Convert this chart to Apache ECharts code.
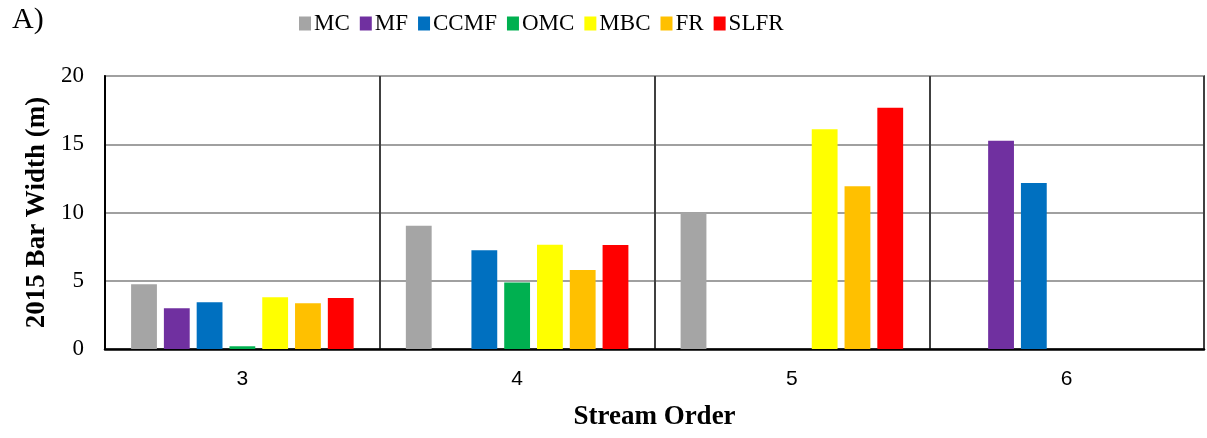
<!DOCTYPE html>
<html><head><meta charset="utf-8">
<script src="https://cdn.jsdelivr.net/npm/echarts@6/dist/echarts.min.js"></script>
<style>html,body{margin:0;padding:0;background:#fff}#c{width:1207px;height:438px}</style>
</head><body><div id="c"></div>
<script>
const categories = ['3', '4', '5', '6'];
const seriesNames = ['MC', 'MF', 'CCMF', 'OMC', 'MBC', 'FR', 'SLFR'];
const MC   = [4.74, 9.03, 10.0, null];
const MF   = [2.98, null, null, 15.26];
const CCMF = [3.42, 7.23, null, 12.16];
const OMC  = [0.2, 4.88, null, null];
const MBC  = [3.79, 7.64, 16.1, null];
const FR   = [3.35, 5.79, 11.92, null];
const SLFR = [3.74, 7.62, 17.68, null];
const yTicks = [0, 5, 10, 15, 20];
const colors = ['#a5a5a5', '#7030a0', '#0070c0', '#00b050', '#ffff00', '#ffc000', '#ff0000'];

const values = [MC, MF, CCMF, OMC, MBC, FR, SLFR];
const font = '"Liberation Serif", "Times New Roman", serif';
const sans = '"Liberation Sans", Arial, sans-serif';
const chart = echarts.init(document.getElementById('c'));
chart.setOption({
  animation: false,
  color: colors,
  title: { text: 'A)', left: 7, top: 0, textStyle: { fontFamily: font, fontWeight: 'normal', fontSize: 30, color: '#000' } },
  legend: {
    left: 294, top: 7, itemWidth: 12, itemHeight: 14, itemGap: 10,
    textStyle: { fontFamily: font, fontSize: 23, color: '#000', padding: [0, 0, 0, -2] },
    icon: 'rect',
    data: seriesNames
  },
  grid: { left: 105, right: 3, top: 76, bottom: 89, show: true, borderColor: '#000', borderWidth: 1.5 },
  xAxis: {
    type: 'category', data: categories,
    name: 'Stream Order', nameLocation: 'middle', nameGap: 55,
    nameTextStyle: { fontFamily: font, fontWeight: 'bold', fontSize: 27, color: '#000' },
    axisLine: { lineStyle: { color: '#000', width: 2.5 } },
    axisTick: { show: false },
    axisLabel: { fontFamily: sans, fontSize: 21, color: '#000', margin: 20 },
    splitLine: { show: true, lineStyle: { color: '#404040', width: 2 } }
  },
  yAxis: {
    type: 'value', min: yTicks[0], max: yTicks[yTicks.length - 1], interval: 5,
    name: '2015 Bar Width (m)', nameLocation: 'middle', nameGap: 48,
    nameTextStyle: { fontFamily: font, fontWeight: 'bold', fontSize: 27, color: '#000' },
    axisLine: { show: true, lineStyle: { color: '#000', width: 2 } },
    axisTick: { show: false },
    axisLabel: { fontFamily: font, fontSize: 23, color: '#000', margin: 21 },
    splitLine: { lineStyle: { color: '#a0a0a0', width: 2 } }
  },
  series: seriesNames.map((n, i) => ({
    name: n, type: 'bar', data: values[i],
    barGap: '27%', barCategoryGap: '19%',
    itemStyle: { color: colors[i] }
  }))
});
</script></body></html>
